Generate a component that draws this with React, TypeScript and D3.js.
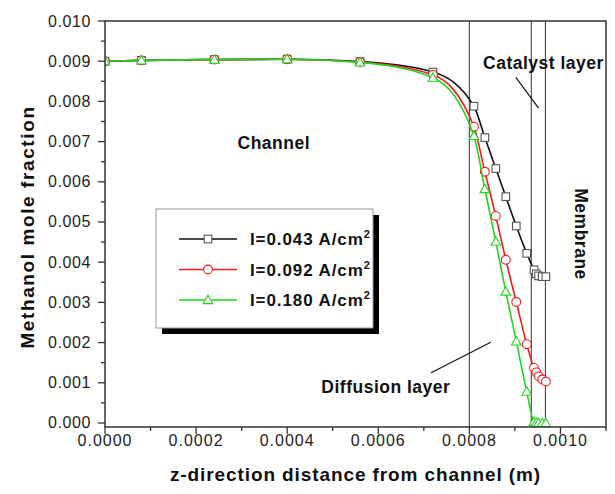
import React from "react";
import * as d3 from "d3";

// Distance from the channel (m) for each sampled node
const zPositions = [
  0, 0.00008, 0.00024, 0.0004, 0.00056, 0.00072, 0.00081, 0.000834, 0.000858,
  0.00088, 0.000903, 0.000926, 0.000942, 0.000947, 0.000952, 0.00096, 0.000968,
];

// Methanol mole fraction for each current density
const fracLow = [
  0.009, 0.00902, 0.00904, 0.00905, 0.00899, 0.00873, 0.00788, 0.0071, 0.00633,
  0.00563, 0.0049, 0.00422, 0.00381, 0.00371, 0.00366, 0.00364, 0.00364,
];
const fracMid = [
  0.009, 0.00902, 0.00904, 0.00905, 0.00898, 0.00866, 0.00737, 0.00625, 0.00515,
  0.00406, 0.00301, 0.00196, 0.00137, 0.00126, 0.00116, 0.00108, 0.00103,
];
const fracHigh = [
  0.009, 0.00902, 0.00904, 0.00905, 0.00897, 0.00859, 0.00714, 0.00582, 0.00451,
  0.00327, 0.00203, 0.00078, 0.00003, 0.00001, 0.0, 0.0, 0.0,
];

const seriesNames = ["I=0.043 A/cm", "I=0.092 A/cm", "I=0.180 A/cm"];

// Layer boundaries (m)
const layerBounds = [0.0008, 0.000936, 0.000967];

const xTickValues = [0, 0.0002, 0.0004, 0.0006, 0.0008, 0.001];
const xMinorValues = [0.0001, 0.0003, 0.0005, 0.0007, 0.0009, 0.0011];
const yTickValues = [0, 0.001, 0.002, 0.003, 0.004, 0.005, 0.006, 0.007, 0.008, 0.009, 0.01];
const yMinorValues = [0.0005, 0.0015, 0.0025, 0.0035, 0.0045, 0.0055, 0.0065, 0.0075, 0.0085, 0.0095];

const W = 615;
const H = 494;
const M = { left: 105, right: 9, top: 21, bottom: 67 };
const FONT = "'Liberation Sans', Arial, Helvetica, sans-serif";

const BLACK = "#111111";
const RED = "#ee1c1c";
const GREEN = "#22d322";

type Kind = "square" | "circle" | "triangle";

function Marker({ kind, x, y, color }: { kind: Kind; x: number; y: number; color: string }) {
  if (kind === "square") {
    return <rect x={x - 3.8} y={y - 3.8} width={7.6} height={7.6} fill="#fff" stroke="#555" strokeWidth={1.1} />;
  }
  if (kind === "circle") {
    return <circle cx={x} cy={y} r={4.4} fill="#fff" stroke={color} strokeWidth={1.1} />;
  }
  const s = 4.8;
  return (
    <path
      d={`M${x},${y - s}L${x + s},${y + s * 0.75}L${x - s},${y + s * 0.75}Z`}
      fill="#fff"
      stroke={color}
      strokeWidth={1.1}
    />
  );
}

export default function App() {
  const x = d3.scaleLinear().domain([0, 0.0011]).range([M.left, W - M.right]);
  const y = d3.scaleLinear().domain([-0.0001, 0.01]).range([H - M.bottom, M.top]);
  const x0 = x.range()[0];
  const x1 = x.range()[1];
  const yb = y.range()[0];
  const yt = y.range()[1];

  const series = [
    { values: fracLow, color: BLACK, kind: "square" as Kind },
    { values: fracMid, color: RED, kind: "circle" as Kind },
    { values: fracHigh, color: GREEN, kind: "triangle" as Kind },
  ];

  const line = d3
    .line<[number, number]>()
    .x((d) => x(d[0]))
    .y((d) => y(d[1]))
    .curve(d3.curveMonotoneX);

  const legendX = 156;
  const legendY = 209;
  const legendW = 217;
  const legendH = 119;

  return (
    <div style={{ position: "absolute", left: 0, top: 0 }}>
      <svg width={W} height={H} style={{ display: "block", background: "#fff" }} fontFamily={FONT}>
        <defs>
          <clipPath id="plot-clip">
            <rect x={x0} y={yt} width={x1 - x0} height={yb - yt} />
          </clipPath>
        </defs>

        {/* layer boundaries */}
        {layerBounds.map((b, i) => (
          <line key={i} x1={x(b)} x2={x(b)} y1={yt} y2={yb} stroke="#444" strokeWidth={1.1} />
        ))}

        {/* curves and markers */}
        <g clipPath="url(#plot-clip)">
          {series.map((s, i) => (
            <g key={i}>
              <path
                d={line(zPositions.map((z, j) => [z, s.values[j]] as [number, number])) || ""}
                fill="none"
                stroke={s.color}
                strokeWidth={1.6}
              />
              {zPositions.map((z, j) => (
                <Marker key={j} kind={s.kind} x={x(z)} y={y(s.values[j])} color={s.color} />
              ))}
            </g>
          ))}
        </g>

        {/* frame */}
        <rect x={x0} y={yt} width={x1 - x0} height={yb - yt} fill="none" stroke="#333" strokeWidth={1.5} />

        {/* x axis ticks */}
        {xTickValues.map((t) => (
          <g key={"xt" + t}>
            <line x1={x(t)} x2={x(t)} y1={yb} y2={yb + 7} stroke="#333" strokeWidth={1.3} />
            <text x={x(t)} y={yb + 19} textAnchor="middle" fontSize={16} letterSpacing={1} fill="#222">
              {d3.format(".4f")(t)}
            </text>
          </g>
        ))}
        {xMinorValues.map((t) => (
          <line key={"xm" + t} x1={x(t)} x2={x(t)} y1={yb} y2={yb + 4} stroke="#333" strokeWidth={1.3} />
        ))}

        {/* y axis ticks */}
        {yTickValues.map((t) => (
          <g key={"yt" + t}>
            <line x1={x0 - 7} x2={x0} y1={y(t)} y2={y(t)} stroke="#333" strokeWidth={1.3} />
            <text x={x0 - 14} y={y(t) + 5.5} textAnchor="end" fontSize={16} letterSpacing={0.6} fill="#222">
              {d3.format(".3f")(t)}
            </text>
          </g>
        ))}
        {yMinorValues.map((t) => (
          <line key={"ym" + t} x1={x0 - 4} x2={x0} y1={y(t)} y2={y(t)} stroke="#333" strokeWidth={1.3} />
        ))}

        {/* axis titles */}
        <text
          x={(x0 + x1) / 2}
          y={481}
          textAnchor="middle"
          fontSize={19}
          fontWeight="bold"
          letterSpacing={0.9}
          fill="#111"
        >
          z-direction distance from channel (m)
        </text>
        <text
          transform={`translate(34,${(yt + yb) / 2 + 3}) rotate(-90)`}
          textAnchor="middle"
          fontSize={19}
          fontWeight="bold"
          letterSpacing={1.6}
          fill="#111"
        >
          Methanol mole fraction
        </text>

        {/* region annotations */}
        <text x={x(0.000291)} y={y(0.00681)} fontSize={17.5} fontWeight="bold" letterSpacing={0.5} fill="#111">
          Channel
        </text>
        <text x={x(0.00083)} y={y(0.0088)} fontSize={17.5} fontWeight="bold" letterSpacing={0.5} fill="#111">
          Catalyst layer
        </text>
        <line x1={x(0.000902)} y1={y(0.0086)} x2={x(0.000952)} y2={y(0.00783)} stroke="#111" strokeWidth={1.2} />
        <text x={x(0.000475)} y={y(0.00075)} fontSize={17.5} fontWeight="bold" letterSpacing={0.5} fill="#111">
          Diffusion layer
        </text>
        <line x1={x(0.000716)} y1={y(0.00125)} x2={x(0.000847)} y2={y(0.00201)} stroke="#111" strokeWidth={1.2} />
        <text
          transform={`translate(${x(0.001031)},${y(0.0047)}) rotate(90)`}
          textAnchor="middle"
          fontSize={17.5}
          fontWeight="bold"
          letterSpacing={0.5}
          fill="#111"
        >
          Membrane
        </text>

        {/* legend */}
        <rect x={legendX + 6} y={legendY + 6} width={legendW} height={legendH} fill="#000" />
        <rect x={legendX} y={legendY} width={legendW} height={legendH} fill="#fff" stroke="#999" strokeWidth={1} />
        {series.map((s, i) => {
          const ry = legendY + 30 + i * 30.5;
          return (
            <g key={"lg" + i}>
              <line x1={legendX + 23} x2={legendX + 81} y1={ry} y2={ry} stroke={s.color} strokeWidth={1.6} />
              <Marker kind={s.kind} x={legendX + 52} y={ry} color={s.color} />
              <text x={legendX + 94} y={ry + 6} fontSize={17} fontWeight="bold" letterSpacing={0.9} fill="#111">
                {seriesNames[i]}
                <tspan dy={-7} fontSize={11}>2</tspan>
              </text>
            </g>
          );
        })}
      </svg>
    </div>
  );
}
